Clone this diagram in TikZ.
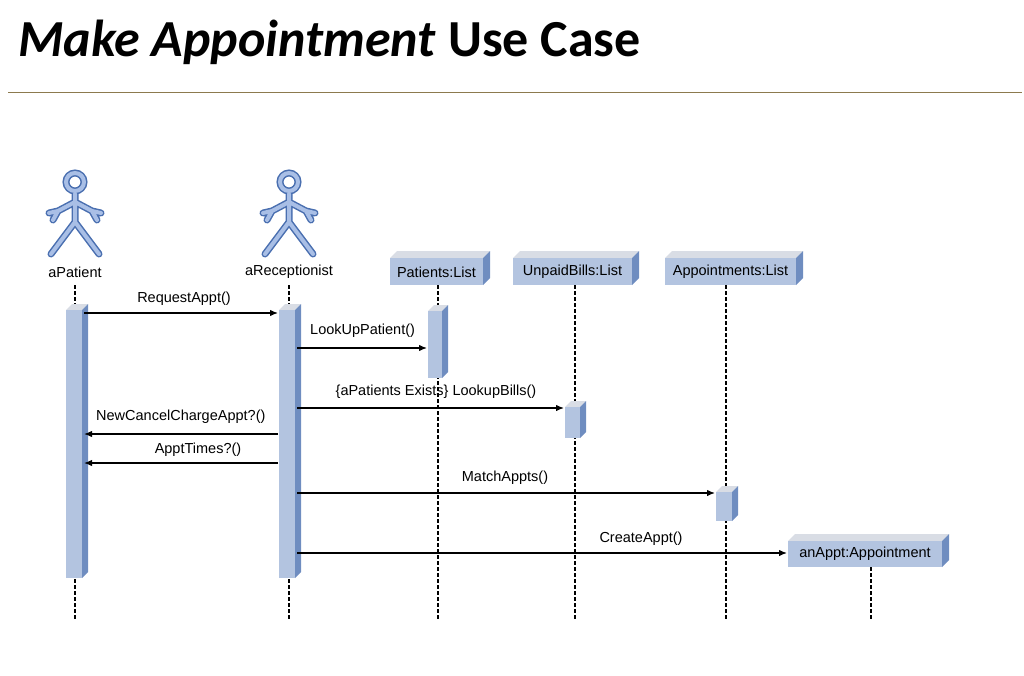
\documentclass[tikz,border=0pt]{standalone}
\usepackage{fontspec}
\setmainfont{Liberation Sans}
\newfontfamily\titlefont{Carlito}
\usetikzlibrary{arrows.meta,calc}
\definecolor{front}{HTML}{B3C4E0}
\definecolor{side}{HTML}{6F8DC0}
\definecolor{topc}{HTML}{D9DDE5}
\definecolor{actd}{HTML}{4A6FB0}
\definecolor{actl}{HTML}{A9BFE6}
\definecolor{rule}{HTML}{8C7A4E}
\newcommand\boxthreed[5]{% x1 ybottom x2 ytop depth
  \fill[topc] (#1,#4) -- ++(#5,-#5) -- (#3+#5,#4-#5) -- (#3,#4) -- cycle;
  \fill[side] (#3,#4) -- (#3+#5,#4-#5) -- (#3+#5,#2-#5) -- (#3,#2) -- cycle;
  \fill[front] (#1,#2) rectangle (#3,#4);}
\newcommand\actor[2]{%
  \begin{scope}[shift={(#1,#2)}]
  \foreach \w/\c in {7/actd,4/actl}{
   \draw[line width=\w pt,color=\c,line cap=round,line join=round]
     (0,12) -- (0,40) (-24,72) -- (0,40) -- (24,72)
     (0,20) -- (-17,29) (0,20) -- (17,29)
     (-17,29) -- (-26,31) (-17,29) -- (-22,38) (17,29) -- (26,31) (17,29) -- (22,38);
   \draw[line width=\w pt,color=\c] (0,0) circle (9);}
  \end{scope}}
\tikzset{lbl/.style={font=\fontsize{14.5}{17}\selectfont,inner sep=0pt},
  msg/.style={-{Latex[length=8pt,width=6.5pt]},line width=1.3pt},
  life/.style={dashed,line width=1.2pt,dash pattern=on 3.5pt off 2.5pt}}
\begin{document}
\begin{tikzpicture}[x=1pt,y=-1pt]
\useasboundingbox (0,0) rectangle (1024,676);
\node[anchor=base west,inner sep=0pt,font=\titlefont\fontsize{52}{56}\selectfont\bfseries] (title) at (18,57) {\textit{Make Appointment} Use Case};
\draw[rule,line width=1pt] (8,93) -- (1022,93);
% lifelines
\foreach \x/\y in {75/285,289/285,438/285,575/285,726/285,871/567}
  \draw[life] (\x,\y) -- (\x,620);
% actors
\actor{75}{182}\actor{289}{182}
\node[lbl] (pat) at (75,272) {aPatient};
\node[lbl] (rec) at (289,272) {aReceptionist};
% objects
\boxthreed{390}{285}{483}{258}{7}
\boxthreed{513}{285}{632}{258}{7}
\boxthreed{665}{285}{796}{258}{7}
\boxthreed{788}{567}{942}{541}{7}
\node[lbl] (pl) at (436.5,272) {Patients:List};
\node[lbl] (ub) at (572.5,272) {UnpaidBills:List};
\node[lbl] (al) at (730.5,272) {Appointments:List};
\node[lbl] (an) at (865,554) {anAppt:Appointment};
% activations
\boxthreed{66}{578}{82}{310}{6}
\boxthreed{279}{578}{295}{310}{6}
\boxthreed{428}{378}{442}{311}{6}
\boxthreed{565}{438}{580}{407}{6}
\boxthreed{716}{521}{732}{492}{6}
\draw[msg] (84,313) -- (278,313);
\node[lbl] at (184,299) {RequestAppt()};
\draw[msg] (297,348) -- (427,348);
\node[lbl,anchor=west] at (310,331) {LookUpPatient()};
\draw[msg] (297,408) -- (564,408);
\node[lbl] at (436,392) {\{aPatients Exists\} LookupBills()};
\draw[msg] (278,434) -- (84,434);
\node[lbl,anchor=west] at (96,417) {NewCancelChargeAppt?()};
\draw[msg] (278,463) -- (84,463);
\node[lbl] at (198,450) {ApptTimes?()};
\draw[msg] (297,493) -- (715,493);
\node[lbl] at (505,478) {MatchAppts()};
\draw[msg] (297,553) -- (787,553);
\node[lbl] at (641,539) {CreateAppt()};
\end{tikzpicture}
\end{document}
